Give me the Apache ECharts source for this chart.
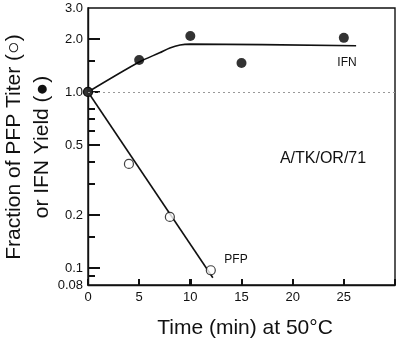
<!DOCTYPE html>
<html>
<head>
<meta charset="utf-8">
<script src="https://cdn.jsdelivr.net/npm/echarts@6/dist/echarts.min.js"></script>
<style>
  html, body { margin: 0; padding: 0; background: #fff; }
  #main { width: 400px; height: 344px; }
</style>
</head>
<body>
<div id="main"></div>
<script>
// measured points
var ifnX = [0, 5, 10, 15, 25];
var ifnY = [1.0, 1.52, 2.08, 1.46, 2.03];
var pfpX = [0, 4, 8, 12];
var pfpY = [1.0, 0.39, 0.195, 0.097];

// fitted curves
var ifnFitX = [0, 5, 7, 8, 9, 10, 26.2];
var ifnFitY = [1.0, 1.48, 1.67, 1.78, 1.85, 1.87, 1.83];
var pfpFitX = [0, 12.2];
var pfpFitY = [1.0, 0.088];

// axis ticks
var xTicks = [5, 10, 15, 20, 25];
var yLabels = [0.08, 0.1, 0.2, 0.5, 1, 2, 3];
var yLabelText = ['0.08', '0.1', '0.2', '0.5', '1.0', '2.0', '3.0'];
var yMajor = [0.1, 0.2, 0.5, 1, 2];
var yMinor = [0.09, 0.15, 0.3, 0.4, 0.6, 0.7, 0.8, 1.5];

function pairs(xs, ys) {
    return xs.map(function (x, i) { return [x, ys[i]]; });
}

var font = '"Liberation Sans", Arial, sans-serif';

// y tick marks, placed through the log scale (drawn as small rects)
function yTickSeries(values, len) {
    return {
        type: 'custom',
        data: values.map(function (v) { return [0, v]; }),
        renderItem: function (params, api) {
            var p = api.coord([0, api.value(1)]);
            return { type: 'rect', shape: { x: p[0], y: Math.round(p[1]) - 1, width: len, height: 2 },
                     style: { fill: '#111' } };
        }
    };
}

// x tick marks
var xTickSeries = {
    type: 'custom',
    data: xTicks.map(function (v) { return [v, 0.08]; }),
    renderItem: function (params, api) {
        var p = api.coord([api.value(0), 0.08]);
        return { type: 'rect', shape: { x: Math.round(p[0]) - 1, y: p[1] - 6, width: 2, height: 6 },
                 style: { fill: '#111' } };
    }
};

// y tick labels, placed through the log scale
var yLabelSeries = {
    type: 'custom',
    data: yLabels.map(function (v) { return [0, v]; }),
    renderItem: function (params, api) {
        var p = api.coord([0, api.value(1)]);
        return { type: 'text', x: p[0] - 5, y: p[1],
                 style: { text: yLabelText[params.dataIndex], font: '13px ' + font, fill: '#111',
                          align: 'right', verticalAlign: 'middle' } };
    }
};

var chartDom = document.getElementById('main');
var myChart = echarts.init(chartDom);
var option;

option = {
    backgroundColor: '#fff',
    animation: false,
    grid: {
        left: 88, right: 5, top: 8, bottom: 59,
        show: true, borderColor: '#111', borderWidth: 1.4
    },
    xAxis: {
        type: 'value', min: 0, max: 30, interval: 5,
        splitLine: { show: false },
        axisLine: { show: true, lineStyle: { color: '#111', width: 1.4 } },
        axisTick: { show: true, inside: true, length: 6, lineStyle: { color: '#111', width: 2 } },
        axisLabel: {
            color: '#111', fontSize: 13, fontFamily: font, margin: 6,
            formatter: function (v) { return v >= 30 ? '' : String(v); }
        }
    },
    yAxis: {
        type: 'log', min: 0.08, max: 3, logBase: 10,
        splitLine: { show: false },
        axisLine: { show: true, lineStyle: { color: '#111', width: 1.4 } },
        axisTick: { show: false },
        axisLabel: { show: false }
    },
    series: [
        {
            type: 'line', data: pairs(ifnFitX, ifnFitY), smooth: 0.3,
            symbol: 'none', lineStyle: { color: '#111', width: 1.6 }, z: 2
        },
        {
            type: 'line', data: pairs(pfpFitX, pfpFitY),
            symbol: 'none', lineStyle: { color: '#111', width: 1.6 }, z: 2
        },
        {
            type: 'scatter', data: pairs(ifnX, ifnY), symbolSize: 10,
            itemStyle: { color: '#000' }, z: 4,
            markLine: {
                silent: true, symbol: 'none', label: { show: false },
                lineStyle: { type: [2, 3], color: '#999', width: 1 },
                data: [{ yAxis: 1 }]
            }
        },
        {
            type: 'scatter', data: pairs(pfpX, pfpY), symbolSize: 9,
            itemStyle: { color: '#fff', borderColor: '#111', borderWidth: 1.2 }, z: 3
        },
        yTickSeries(yMajor, 12),
        yTickSeries(yMinor, 7),
        xTickSeries,
        yLabelSeries
    ],
    graphic: [
        { type: 'text', x: 14, y: 147, rotation: Math.PI / 2,
          style: { text: 'Fraction of PFP Titer (\u25CB)', font: '21px ' + font, fill: '#111', align: 'center', verticalAlign: 'middle' } },
        { type: 'text', x: 42, y: 147, rotation: Math.PI / 2,
          style: { text: 'or IFN Yield (\u25CF)', font: '21px ' + font, fill: '#111', align: 'center', verticalAlign: 'middle' } },
        { type: 'text', x: 245, y: 328,
          style: { text: 'Time (min) at 50\u00B0C', font: '21px ' + font, fill: '#111', align: 'center', verticalAlign: 'middle' } },
        { type: 'text', x: 347, y: 63,
          style: { text: 'IFN', font: '12px ' + font, fill: '#111', align: 'center', verticalAlign: 'middle' } },
        { type: 'text', x: 236, y: 260,
          style: { text: 'PFP', font: '12px ' + font, fill: '#111', align: 'center', verticalAlign: 'middle' } },
        { type: 'text', x: 323, y: 159,
          style: { text: 'A/TK/OR/71', font: '16px ' + font, fill: '#111', align: 'center', verticalAlign: 'middle' } }
    ]
};
option && myChart.setOption(option);
</script>
</body>
</html>
